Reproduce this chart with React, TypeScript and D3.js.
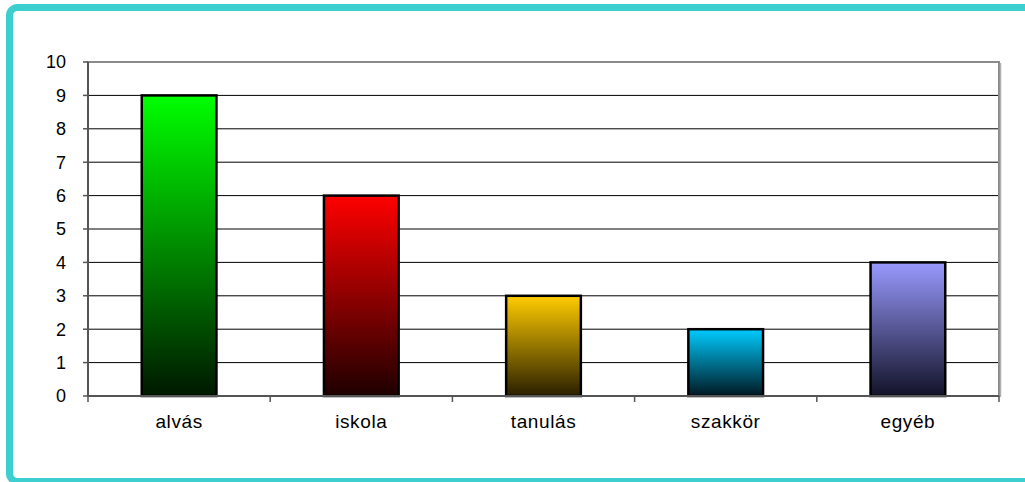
import React from "react";
import * as d3 from "d3";

const categories = ["alvás", "iskola", "tanulás", "szakkör", "egyéb"];
const values = [9, 6, 3, 2, 4];
const topColors = ["#00ff00", "#ff0000", "#ffcc00", "#00ccff", "#9999ff"];
const bottomColors = ["#001800", "#1e0000", "#2a1f00", "#001822", "#121228"];
const yTicks = [0, 1, 2, 3, 4, 5, 6, 7, 8, 9, 10];

export default function App() {
  const width = 1025;
  const height = 482;
  const margin = { top: 62, right: 26, bottom: 86, left: 88 };
  const innerW = width - margin.left - margin.right;
  const innerH = height - margin.top - margin.bottom;

  const x = d3
    .scaleBand<string>()
    .domain(categories)
    .range([0, innerW])
    .paddingInner(0.59)
    .paddingOuter(0.295);
  const y = d3.scaleLinear().domain([0, 10]).range([innerH, 0]);
  const step = x.step();
  const bounds = d3.range(categories.length + 1).map((i) => i * step);
  const font = "'Liberation Sans', Arial, sans-serif";

  return (
    <div style={{ position: "absolute", left: 0, top: 0 }}>
      <svg width={width} height={height} style={{ display: "block", background: "#fff" }}>
        <defs>
          {categories.map((c, i) => (
            <linearGradient key={c} id={`g${i}`} x1="0" y1="0" x2="0" y2="1">
              <stop offset="0%" stopColor={topColors[i]} />
              <stop offset="100%" stopColor={bottomColors[i]} />
            </linearGradient>
          ))}
        </defs>
        <rect x={9.5} y={7.5} width={1030} height={474} rx={8} fill="#fff" stroke="#3dcfcf" strokeWidth={7} />
        <g transform={`translate(${margin.left},${margin.top})`}>
          {yTicks.filter((t) => t > 0 && t < 10).map((t) => (
            <line key={t} x1={0} x2={innerW} y1={y(t)} y2={y(t)} stroke="#000" strokeWidth={1} />
          ))}
          <rect x={0} y={0} width={innerW} height={innerH} fill="none" stroke="#8a8a8a" strokeWidth={2} />
          <line x1={innerW + 1.5} x2={innerW + 1.5} y1={1} y2={innerH + 1} stroke="#b0b0b0" strokeWidth={1.5} />
          {categories.map((c, i) => (
            <rect
              key={c}
              x={x(c)}
              y={y(values[i])}
              width={x.bandwidth()}
              height={innerH - y(values[i])}
              fill={`url(#g${i})`}
              stroke="#000"
              strokeWidth={2.5}
            />
          ))}
          <line x1={0} x2={0} y1={0} y2={innerH} stroke="#555" strokeWidth={2} />
          <line x1={0} x2={innerW} y1={innerH} y2={innerH} stroke="#555" strokeWidth={2} />
          {yTicks.map((t) => (
            <g key={t} transform={`translate(0,${y(t)})`}>
              <line x1={-5} x2={0} stroke="#555" strokeWidth={1.5} />
              <text x={-22} dy="0.36em" textAnchor="end" fontFamily={font} fontSize={18} fill="#000">
                {t}
              </text>
            </g>
          ))}
          {bounds.map((b, i) => (
            <line key={i} x1={b} x2={b} y1={innerH} y2={innerH + 6} stroke="#555" strokeWidth={1.5} />
          ))}
          {categories.map((c) => (
            <text
              key={c}
              x={(x(c) ?? 0) + x.bandwidth() / 2}
              y={innerH + 32}
              textAnchor="middle"
              fontFamily={font}
              fontSize={19}
              letterSpacing={0.6}
              fill="#000"
            >
              {c}
            </text>
          ))}
        </g>
      </svg>
    </div>
  );
}
